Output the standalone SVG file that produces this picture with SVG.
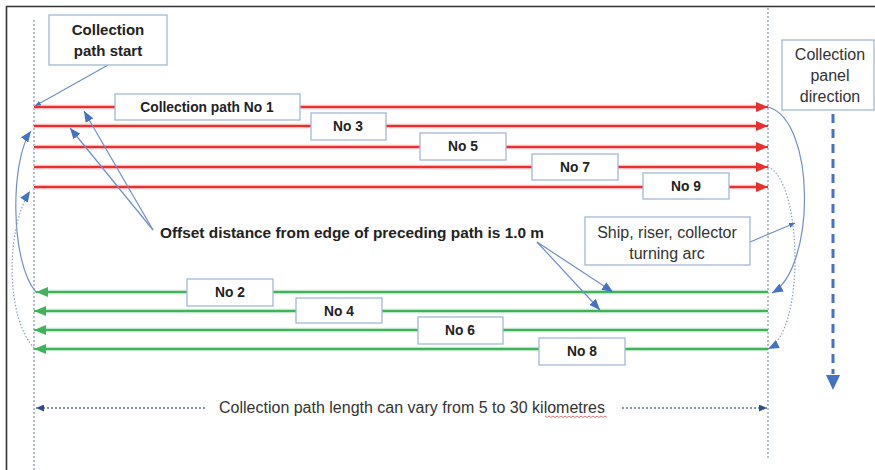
<svg xmlns="http://www.w3.org/2000/svg" width="875" height="470" viewBox="0 0 875 470">
<style>
.box{fill:#fff;stroke:#a3b8d8;stroke-width:1.3}
.lb{font-family:"Liberation Sans",Arial,sans-serif;font-weight:bold;fill:#222;text-anchor:middle}
.ln{font-family:"Liberation Sans",Arial,sans-serif;fill:#333;text-anchor:middle;font-size:16px}
.red{stroke:#e8302e;stroke-width:2.2;fill:none}
.redglow{stroke:#f7b9b9;stroke-width:4.5;fill:none}
.grn{stroke:#3fb35a;stroke-width:2.2;fill:none}
.grnglow{stroke:#bfe6c8;stroke-width:4.5;fill:none}
.conn{stroke:#6f8fc8;stroke-width:1.2;fill:none}
.dot{stroke:#8aa0c4;stroke-width:1.2;fill:none;stroke-dasharray:1.5 1.8}
.guide{stroke:#8a9bb8;stroke-width:1.3;fill:none;stroke-dasharray:2 2}
.dim{stroke:#5a74a8;stroke-width:1.3;fill:none;stroke-dasharray:2 2}
</style>
<defs>
<marker id="ra" markerUnits="userSpaceOnUse" markerWidth="12" markerHeight="10" refX="12" refY="5" orient="auto"><path d="M0,0 L12,5 L0,10 Z" fill="#e8302e"/></marker>
<marker id="ga" markerUnits="userSpaceOnUse" markerWidth="12" markerHeight="10" refX="12" refY="5" orient="auto"><path d="M0,0 L12,5 L0,10 Z" fill="#3fb35a"/></marker>
<marker id="ba" markerUnits="userSpaceOnUse" markerWidth="11" markerHeight="9" refX="11" refY="4.5" orient="auto"><path d="M0,0 L11,4.5 L0,9 Z" fill="#4472c4"/></marker>
<marker id="bs" markerUnits="userSpaceOnUse" markerWidth="6" markerHeight="5" refX="6" refY="2.5" orient="auto"><path d="M0,0 L6,2.5 L0,5 Z" fill="#4472c4"/></marker>
<marker id="na" markerUnits="userSpaceOnUse" markerWidth="8" markerHeight="7" refX="8" refY="3.5" orient="auto"><path d="M0,0 L8,3.5 L0,7 Z" fill="#2f4d80"/></marker>
</defs>
<rect width="875" height="470" fill="#fff"/>
<g id="frame">
<path d="M6.5,470 L6.5,6.5 L875,6.5" stroke="#333" stroke-width="1.6" fill="none"/>
<line class="guide" x1="34" y1="20" x2="34" y2="470"/>
<line class="guide" x1="768" y1="8" x2="768" y2="458"/>
</g>
<g id="connectors">
<g id="red-paths">
<line class="redglow" x1="34" y1="107" x2="760" y2="107"/>
<line class="redglow" x1="34" y1="126" x2="760" y2="126"/>
<line class="redglow" x1="34" y1="147" x2="760" y2="147"/>
<line class="redglow" x1="34" y1="167" x2="760" y2="167"/>
<line class="redglow" x1="34" y1="187" x2="760" y2="187"/>
<line class="red" x1="34" y1="107" x2="768" y2="107" marker-end="url(#ra)"/>
<line class="red" x1="34" y1="126" x2="768" y2="126" marker-end="url(#ra)"/>
<line class="red" x1="34" y1="147" x2="768" y2="147" marker-end="url(#ra)"/>
<line class="red" x1="34" y1="167" x2="768" y2="167" marker-end="url(#ra)"/>
<line class="red" x1="34" y1="187" x2="768" y2="187" marker-end="url(#ra)"/>
</g>
<g id="green-paths">
<line class="grnglow" x1="768" y1="292" x2="44" y2="292"/>
<line class="grnglow" x1="768" y1="311" x2="44" y2="311"/>
<line class="grnglow" x1="768" y1="330" x2="44" y2="330"/>
<line class="grnglow" x1="768" y1="349" x2="44" y2="349"/>
<line class="grn" x1="768" y1="292" x2="36" y2="292" marker-end="url(#ga)"/>
<line class="grn" x1="768" y1="311" x2="34" y2="311" marker-end="url(#ga)"/>
<line class="grn" x1="768" y1="330" x2="34" y2="330" marker-end="url(#ga)"/>
<line class="grn" x1="768" y1="349" x2="34" y2="349" marker-end="url(#ga)"/>
</g>
<path class="conn" d="M36,292 C10,262 10,160 31,131" marker-end="url(#ba)"/>
<path class="dot" d="M34,348 C6,318 5,230 30,191" marker-end="url(#ba)"/>
<path class="conn" d="M768,107 C816,120 816,268 772,293" marker-end="url(#ba)"/>
<path class="dot" d="M768,167 C802,180 806,330 768,349" marker-end="url(#ba)"/>
<line class="conn" x1="108" y1="65" x2="35" y2="106" marker-end="url(#bs)"/>
<line class="conn" x1="153" y1="230" x2="84" y2="111" marker-end="url(#ba)"/>
<line class="conn" x1="153" y1="230" x2="70" y2="128" marker-end="url(#ba)"/>
<line class="conn" x1="537" y1="242" x2="613" y2="292" marker-end="url(#ba)"/>
<line class="conn" x1="537" y1="242" x2="600" y2="310" marker-end="url(#ba)"/>
<line class="conn" x1="750" y1="242" x2="795" y2="223" marker-end="url(#bs)"/>
<line class="dim" x1="205" y1="408" x2="36" y2="408" marker-end="url(#na)"/>
<line class="dim" x1="622" y1="408" x2="767" y2="408" marker-end="url(#na)"/>
<line x1="833" y1="114" x2="833" y2="374" stroke="#4472c4" stroke-width="3" stroke-dasharray="9 6"/>
<path d="M826,375 L840,375 L833,390 Z" fill="#4472c4"/>
</g>
<g id="start-label">
<rect class="box" x="49" y="15" width="118" height="50"/>
<text class="lb" font-size="15" x="108" y="35">Collection</text>
<text class="lb" font-size="15" x="108" y="56">path start</text>
</g>
<g id="path1"><rect class="box" x="115" y="94" width="185" height="26"/><text class="lb" font-size="13.8" x="207" y="112">Collection path No 1</text></g>
<g id="path3"><rect class="box" x="311" y="113" width="75" height="27"/><text class="lb" font-size="13.8" x="348" y="131">No 3</text></g>
<g id="path5"><rect class="box" x="420" y="133" width="86" height="27"/><text class="lb" font-size="13.8" x="463" y="151">No 5</text></g>
<g id="path7"><rect class="box" x="532" y="154" width="86" height="26"/><text class="lb" font-size="13.8" x="575" y="172">No 7</text></g>
<g id="path9"><rect class="box" x="643" y="173" width="86" height="26"/><text class="lb" font-size="13.8" x="686" y="191">No 9</text></g>
<g id="path2"><rect class="box" x="187" y="279" width="86" height="27"/><text class="lb" font-size="13.8" x="230" y="297">No 2</text></g>
<g id="path4"><rect class="box" x="296" y="298" width="86" height="25"/><text class="lb" font-size="13.8" x="339" y="316">No 4</text></g>
<g id="path6"><rect class="box" x="418" y="317" width="85" height="27"/><text class="lb" font-size="13.8" x="460" y="335">No 6</text></g>
<g id="path8"><rect class="box" x="539" y="338" width="86" height="27"/><text class="lb" font-size="13.8" x="582" y="356">No 8</text></g>
<g id="panel-direction">
<rect class="box" x="782" y="40" width="92" height="70"/>
<text class="ln" x="830" y="60">Collection</text>
<text class="ln" x="830" y="81">panel</text>
<text class="ln" x="830" y="102">direction</text>
</g>
<g id="turning-arc">
<rect class="box" x="585" y="217" width="165" height="48"/>
<text class="ln" x="667" y="238">Ship, riser, collector</text>
<text class="ln" x="667" y="259">turning arc</text>
</g>
<g id="offset-label">
<text class="lb" font-size="15.4" x="352" y="238">Offset distance from edge of preceding path is 1.0 m</text>
</g>
<g id="length-label">
<text class="ln" x="412" y="413">Collection path length can vary from 5 to 30 kilometres</text>
<path d="M545,416 l2,1.5 l2,-1.5 l2,1.5 l2,-1.5 l2,1.5 l2,-1.5 l2,1.5 l2,-1.5 l2,1.5 l2,-1.5 l2,1.5 l2,-1.5 l2,1.5 l2,-1.5 l2,1.5 l2,-1.5 l2,1.5 l2,-1.5 l2,1.5 l2,-1.5 l2,1.5 l2,-1.5 l2,1.5 l2,-1.5 l2,1.5 l2,-1.5 l2,1.5 l2,-1.5 l2,1.5 l2,-1.5 l2,1.5" stroke="#e05050" stroke-width="0.8" fill="none"/>
</g>
</svg>
